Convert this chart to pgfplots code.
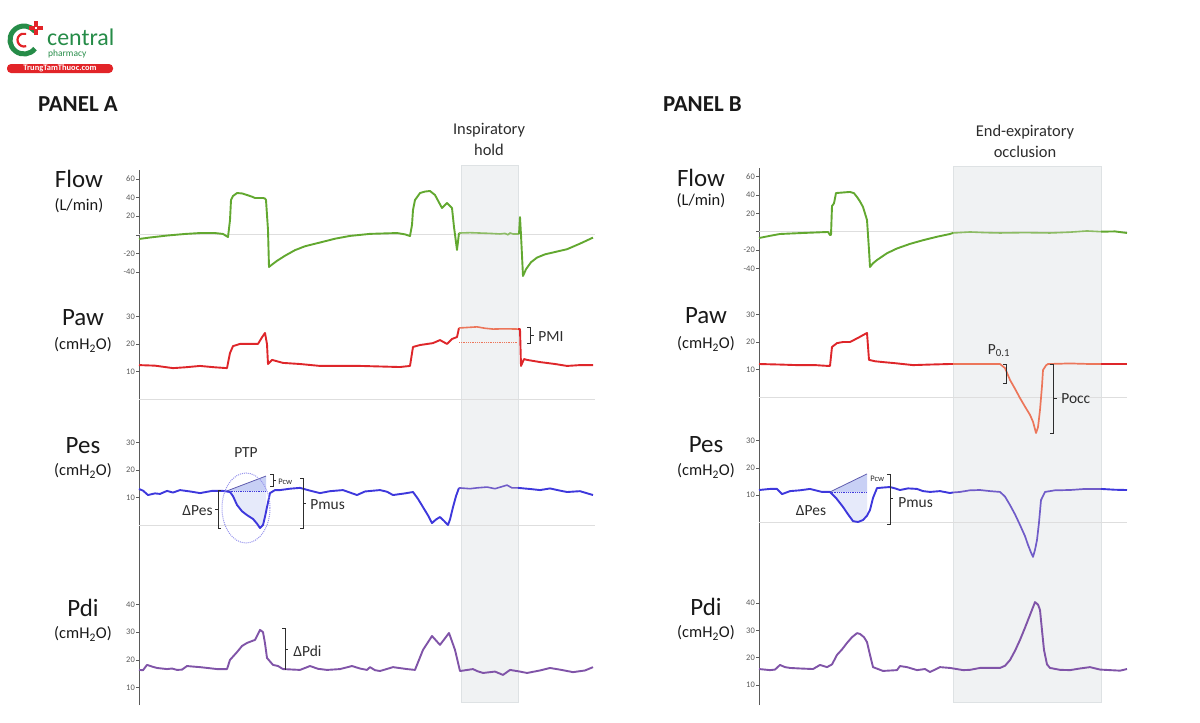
\documentclass[border=0pt]{standalone}
\usepackage{fontspec}
\setmainfont{Carlito}
\usepackage{pgfplots}
\pgfplotsset{compat=1.18}
\definecolor{cflow}{RGB}{98,168,48}
\definecolor{cflowh}{RGB}{140,188,100}
\definecolor{cpaw}{RGB}{222,38,42}
\definecolor{cpawh}{RGB}{236,118,90}
\definecolor{cpes}{RGB}{62,56,220}
\definecolor{cpesh}{RGB}{112,92,200}
\definecolor{cpdi}{RGB}{128,84,168}
\definecolor{bgshade}{RGB}{240,242,243}
\definecolor{bgshadeb}{RGB}{222,226,228}
\definecolor{zline}{RGB}{222,222,222}
\definecolor{axc}{RGB}{90,90,90}
\definecolor{txt}{RGB}{25,25,25}
\definecolor{ann}{RGB}{45,45,45}
\definecolor{logog}{RGB}{38,140,72}
\definecolor{logor}{RGB}{226,36,40}
\definecolor{ptpfill}{RGB}{200,208,245}
\pgfplotsset{trace/.style={x=1bp, anchor=south west, axis x line=none, axis y line*=left, clip=false,
  tick align=outside, major tick length=3bp,
  y axis line style={axc, line width=0.8bp}, ytick style={axc, line width=0.6bp},
  yticklabel style={font=\fontsize{8.5}{8.5}\selectfont, text=axc, inner sep=1bp},
  /pgf/number format/assume math mode=true,
  every axis plot/.append style={line join=round}}}
\newcommand{\lab}[1]{\fontsize{#1}{#1}\selectfont}
\begin{document}
\begin{tikzpicture}
\useasboundingbox (0,0) rectangle (1200bp,-723bp);
\begin{scope}[x=1bp,y=-1bp]
% shaded regions
\fill[bgshade] (461,165) rectangle (518,702);
\draw[bgshadeb, line width=0.6bp] (461,165) rectangle (518,702);
\fill[bgshade] (953,166) rectangle (1101,702);
\draw[bgshadeb, line width=0.6bp] (953,166) rectangle (1101,702);
% logo
\draw[logog, line width=5bp] (24,40) ++(38:14) arc[start angle=38, end angle=322, radius=14];
\draw[logor, line width=2.2bp] (24,40) ++(70:6.5) arc[start angle=70, end angle=290, radius=6.5];
\fill[logor] (34,21) rectangle (38,35);
\fill[logor] (29,26) rectangle (43,30);
\fill[white] (35,27) rectangle (37,29);
\node[anchor=west, text=logog, font=\lab{24}, inner sep=0] at (47,37) {central};
\node[anchor=west, text=logog, font=\lab{9.5}, inner sep=0] at (48,54) {pharmacy};
\fill[logor, rounded corners=4bp] (7,64) rectangle (113,73);
\node[text=white, font=\bfseries\lab{8.5}, inner sep=0] at (60,68.5) {TrungTamThuoc.com};
% panel titles
\node[anchor=west, font=\bfseries\lab{23}, text=txt, inner sep=0] at (38,104) {PANEL A};
\node[anchor=west, font=\bfseries\lab{23}, text=txt, inner sep=0] at (663,104.5) {PANEL B};
\node[font=\lab{16.5}, text=ann, align=center] at (489,130) {Inspiratory};
\node[font=\lab{16.5}, text=ann] at (489,150) {hold};
\node[font=\lab{16.5}, text=ann] at (1025,132) {End-expiratory};
\node[font=\lab{16.5}, text=ann] at (1025,152) {occlusion};
% trace labels A
\node[font=\lab{25}, text=txt] at (79,179) {Flow};
\node[font=\lab{16.5}, text=txt] at (79,206) {(L/min)};
\node[font=\lab{25}, text=txt] at (83,318) {Paw};
\node[font=\lab{16.5}, text=txt] at (83,345) {(cmH\textsubscript{2}O)};
\node[font=\lab{25}, text=txt] at (83,446) {Pes};
\node[font=\lab{16.5}, text=txt] at (83,471) {(cmH\textsubscript{2}O)};
\node[font=\lab{25}, text=txt] at (83,608) {Pdi};
\node[font=\lab{16.5}, text=txt] at (83,634) {(cmH\textsubscript{2}O)};
% trace labels B
\node[font=\lab{25}, text=txt] at (701,178) {Flow};
\node[font=\lab{16.5}, text=txt] at (701,201) {(L/min)};
\node[font=\lab{25}, text=txt] at (706,316) {Paw};
\node[font=\lab{16.5}, text=txt] at (706,344) {(cmH\textsubscript{2}O)};
\node[font=\lab{25}, text=txt] at (706,445) {Pes};
\node[font=\lab{16.5}, text=txt] at (706,471) {(cmH\textsubscript{2}O)};
\node[font=\lab{25}, text=txt] at (706,607) {Pdi};
\node[font=\lab{16.5}, text=txt] at (706,633) {(cmH\textsubscript{2}O)};
\end{scope}

% ---------------- PANEL A ----------------
\begin{axis}[trace, at={(139bp,-290bp)}, y=0.93bp, xmin=139, xmax=600, ymin=-59.35, ymax=69.68,
  ytick={-40,-20,0,20,40,60}, yticklabels={-40,-20,,20,40,60}]
\addplot[zline, line width=0.7bp] coordinates {(139,0)(595,0)};
\addplot[cflow, line width=1.9bp] coordinates {(139,-4.5)(150,-2.9)(167,-0.8)(185,0.9)(200,1.9)(215,1.9)(223,0.9)(228,-2.4)(230,15.9)(231,37.4)(233,41.7)(237,44.9)(242,44.5)(247,42.8)(252,41)(255,39.6)(263,39.6)(265,39)(266,37.4)(268,5.2)(269,-34.6)(272,-32)(277,-28)(285,-22.5)(295,-16.5)(305,-12.3)(320,-8.3)(335,-4.2)(350,-1.2)(370,1.0)(397,1.9)(405,0.5)(410,-1.3)(412,10.5)(413,26.7)(415,37.4)(420,44.9)(425,46.5)(430,47.1)(435,42.8)(442,28.8)(447,34.2)(452,28.8)(454,8.4)(457,-16.3)(459,1.9)};
\addplot[cflowh, line width=1.6bp] coordinates {(459,1.9)(470,2.3)(480,1.9)(490,1.5)(500,0.9)(505,1.5)(508,0)(510,2.0)(513,0.9)(519,0.9)};
\addplot[cflow, line width=1.9bp] coordinates {(519,0.9)(520,19.1)(521,-0.2)(523,-44.3)(526,-37)(531,-29.5)(537,-24.5)(545,-21)(555,-18.5)(567,-15.5)(580,-9.5)(593,-3)};
\end{axis}

\begin{axis}[trace, at={(139bp,-415bp)}, y=2.75bp, xmin=139, xmax=600, ymin=-5.745, ymax=39.71,
  ytick={10,20,30}]
\addplot[zline, line width=0.7bp] coordinates {(139,0)(595,0)};
\addplot[cpaw, line width=1.9bp] coordinates {(139,12.4)(155,12.2)(173,11.3)(185,11.6)(200,12.1)(215,11.6)(227,11.3)(230,16.8)(233,19.3)(240,20.1)(258,20.1)(262,22.5)(265,24.1)(267,20)(268,12.8)(272,14.3)(283,13.2)(300,12.8)(320,12.1)(360,12.1)(400,11.7)(410,12.1)(413,19.0)(420,19.7)(433,20.4)(440,21.5)(447,20.1)(452,21.9)(457,22.6)(459,25.9)};
\addplot[cpawh, line width=1.6bp] coordinates {(459,25.9)(468,26.1)(477,26.3)(485,25.8)(493,25.5)(505,25.6)(518,25.5)};
\addplot[cpaw, line width=1.9bp] coordinates {(518,25.5)(520,25.5)(521,12.1)(524,14.6)(527,14.3)(540,13.5)(555,12.8)(567,12.1)(580,12.4)(593,12.4)};
\addplot[cpawh, densely dotted, line width=0.8bp] coordinates {(459,20.8)(518,20.8)};
\end{axis}

\begin{axis}[trace, at={(139bp,-560bp)}, y=2.75bp, xmin=139, xmax=600, ymin=-12.727, ymax=40.0,
  ytick={10,20,30}]
\addplot[zline, line width=0.7bp] coordinates {(139,0)(595,0)};
\addplot[fill=ptpfill, draw=none] coordinates {(227,12.4)(266,17.8)(266,12.4)} -- cycle;
\addplot[fill=ptpfill!45, draw=none] coordinates {(227,12.4)(266,12.4)(266,4.8)(263,0)(260,-1.1)(257,0.5)(253,2.2)(247,3.6)(242,5)(237,7.3)(233,10.5)(230,12.0)} -- cycle;
\addplot[cpes!50!gray, line width=0.8bp] coordinates {(227,12.4)(266,17.8)};
\addplot[cpes, densely dotted, line width=0.8bp] coordinates {(227,12.4)(266,12.4)};
\addplot[cpes, line width=1.9bp] coordinates {(139,13.1)(143,12.5)(148,10.9)(155,11.5)(160,11.3)(167,12.4)(173,11.8)(180,12.7)(190,12.2)(200,11.6)(212,12.4)(223,12.4)(230,12.0)(233,10.5)(237,7.3)(242,5)(247,3.6)(253,2.2)(257,0.5)(260,-1.1)(263,0)(265,3)(267,6.5)(270,11.6)(275,12.7)(280,12.7)(290,13.2)(300,13.5)(310,12.5)(320,11.6)(330,12.3)(343,12.7)(350,11.8)(357,10.9)(365,12.2)(380,12.7)(387,12.1)(393,10.9)(405,11.5)(413,12.0)(418,9.5)(423,6.5)(428,3.5)(432,0.7)(436,2)(440,2.9)(444,1.5)(448,0)(450,2)(453,6.5)(456,10.5)(459,13.5)};
\addplot[cpesh, line width=1.6bp] coordinates {(459,13.5)(470,13.2)(477,13.5)(487,13.8)(495,13.2)(507,14.5)(512,13.5)(518,13.5)};
\addplot[cpes, line width=1.9bp] coordinates {(518,13.5)(530,13.1)(540,12.7)(550,13.3)(560,12.5)(567,12.0)(580,12.3)(593,10.9)};
\end{axis}

\begin{axis}[trace, at={(139bp,-705bp)}, y=2.78bp, xmin=139, xmax=600, ymin=3.777, ymax=55.935,
  ytick={10,20,30,40}]
\addplot[cpdi, line width=1.9bp] coordinates {(139,16.4)(143,16.3)(147,18.2)(152,17.6)(157,17.1)(167,16.7)(172,16.9)(177,16.4)(182,16.5)(187,17.8)(193,17.6)(200,17.4)(210,17.0)(217,16.7)(227,16.7)(230,20.0)(237,22.8)(242,25)(247,26.1)(255,27.2)(260,30.8)(263,30.0)(265,26)(267,20.7)(273,18.2)(278,17.8)(283,16.7)(300,16.4)(310,17.8)(318,16.8)(327,16.4)(340,16.7)(352,17.8)(360,16.9)(367,16.4)(370,17.4)(375,16.3)(380,16.0)(393,17.4)(407,16.7)(415,16.4)(423,23.6)(432,28.6)(440,25.4)(449,29.7)(455,23.6)(460,16.0)(473,16.7)(477,16.0)(483,15.3)(495,15.8)(503,14.6)(510,16.4)(520,15.8)(527,15.3)(540,16.2)(550,17.1)(560,16.5)(573,15.6)(585,16.2)(593,17.4)};
\end{axis}

% ---------------- PANEL B ----------------
\begin{axis}[trace, at={(759bp,-290bp)}, y=0.916bp, xmin=759, xmax=1130, ymin=-63.65, ymax=69.54,
  ytick={-40,-20,0,20,40,60}, yticklabels={-40,-20,,20,40,60}]
\addplot[zline, line width=0.7bp] coordinates {(759,0)(1127,0)};
\addplot[cflow, line width=1.9bp] coordinates {(759,-6.9)(770,-4.5)(780,-2.5)(803,-1.4)(828,-0.3)(830,-3.6)(831,-3.6)(832,28)(834,31)(836,42.2)(850,43.4)(854,42)(857,37.9)(860,33)(863,27.0)(867,12.8)(869,-20)(870,-38.5)(873,-34.5)(877,-30.9)(887,-23.5)(897,-18.3)(910,-13.3)(923,-9.3)(937,-5.5)(950,-2.5)(953,-1.4)};
\addplot[cflowh, line width=1.6bp] coordinates {(953,-1.4)(970,-0.3)(985,-1)(1000,-1.4)(1025,-1)(1050,-1.4)(1070,-0.5)(1087,0.8)(1101,0)};
\addplot[cflow, line width=1.9bp] coordinates {(1101,0)(1115,0.3)(1127,-1.4)};
\end{axis}

\begin{axis}[trace, at={(759bp,-415bp)}, y=2.75bp, xmin=759, xmax=1130, ymin=-6.545, ymax=38.91,
  ytick={10,20,30}]
\addplot[zline, line width=0.7bp] coordinates {(759,0)(1127,0)};
\addplot[cpaw, line width=1.9bp] coordinates {(759,12.0)(780,11.8)(797,11.6)(815,11.6)(828,11.3)(830,11.3)(832,18.2)(837,19.6)(843,20)(850,20.0)(858,21.5)(867,23.3)(869,13.5)(875,13)(883,12.7)(895,12.3)(913,11.6)(930,11.8)(950,12.0)(953,12.0)};
\addplot[cpawh, line width=1.7bp] coordinates {(953,12.0)(975,12)(1000,12.0)(1005,10.5)(1010,6.2)(1015,3)(1020,-0.4)(1025,-3.5)(1030,-6.5)(1033,-9)(1036,-13.1)(1038,-11)(1040,-4.7)(1042,4)(1043,9.8)(1046,11.5)(1048,12)(1070,12.2)(1090,12)(1101,12)};
\addplot[cpaw, line width=1.9bp] coordinates {(1101,12)(1127,12)};
\end{axis}

\begin{axis}[trace, at={(759bp,-560bp)}, y=2.73bp, xmin=759, xmax=1130, ymin=-13.736, ymax=39.377,
  ytick={10,20,30}]
\addplot[zline, line width=0.7bp] coordinates {(759,0)(1127,0)};
\addplot[fill=ptpfill, draw=none] coordinates {(830,11.2)(867,17.8)(867,11.2)} -- cycle;
\addplot[fill=ptpfill!45, draw=none] coordinates {(830,11.2)(867,11.2)(867,2.5)(863,0.9)(858,0.2)(853,0.5)(848,3)(843,5.7)(836,9)} -- cycle;
\addplot[cpes!50!gray, line width=0.8bp] coordinates {(830,11.2)(867,17.8)};
\addplot[cpes, densely dotted, line width=0.8bp] coordinates {(830,11.2)(867,11.2)};
\addplot[cpes, line width=1.9bp] coordinates {(759,11.9)(770,12.3)(777,12.3)(782,10.4)(790,11.5)(800,11.8)(810,12.3)(822,11.2)(830,11.2)(836,9)(843,5.7)(848,3)(853,0.5)(858,0.2)(863,0.9)(867,2.5)(870,4.6)(873,9)(877,12.6)(883,12.8)(890,13.0)(895,12.5)(900,11.9)(908,12.5)(917,12.3)(923,11.5)(930,11.2)(940,11.5)(950,10.8)(953,11)};
\addplot[cpesh, line width=1.7bp] coordinates {(953,11)(960,11.2)(970,11.8)(980,11.9)(990,11.5)(1000,11.2)(1005,9.5)(1010,6.4)(1015,3)(1020,-0.9)(1025,-5)(1028,-8.2)(1031,-11)(1033,-12.6)(1035,-10)(1037,-6.4)(1039,0)(1041,8.2)(1045,11.2)(1055,11.8)(1070,11.9)(1085,12.3)(1101,12.3)};
\addplot[cpes, line width=1.9bp] coordinates {(1101,12.3)(1115,12)(1127,11.9)};
\end{axis}

\begin{axis}[trace, at={(759bp,-705bp)}, y=2.72bp, xmin=759, xmax=1130, ymin=2.574, ymax=55.88,
  ytick={10,20,30,40}]
\addplot[cpdi, line width=1.9bp] coordinates {(759,15.8)(770,15.4)(775,15.6)(780,17.3)(785,16.5)(790,16.2)(800,16)(813,15.8)(820,17.3)(827,16.5)(832,17.5)(837,21.0)(842,23)(847,25.4)(852,27.5)(857,29.0)(860,28.7)(864,27.5)(867,25.7)(870,21)(873,16.5)(883,15.1)(897,15.4)(900,16.9)(907,16.5)(917,15.4)(925,15.8)(930,14.7)(940,16.5)(950,16.2)(963,15.4)(970,15.5)(980,16.2)(1000,16.2)(1005,17)(1010,19.1)(1015,22.5)(1020,26.5)(1025,31)(1030,35.7)(1035,40.4)(1038,39.5)(1040,37.5)(1042,30)(1044,22.8)(1047,17.5)(1050,16.2)(1060,15.5)(1070,15.4)(1080,16)(1090,16.5)(1100,15.6)(1110,15.4)(1120,15.2)(1127,15.8)};
\end{axis}

% ---------------- annotations ----------------
\begin{scope}[x=1bp,y=-1bp, line width=0.8bp]
\draw[cpes!55, densely dotted, line width=1bp] (246,508) ellipse [x radius=24bp, y radius=35bp];
\node[font=\lab{15.5}, text=ann] at (246,453) {PTP};
\draw[ann] (270,474)--(273,474)--(273,486)--(270,486) (273,480)--(276,480);
\node[font=\lab{8.5}, text=ann, anchor=west, inner sep=1bp] at (277,482) {Pcw};
\draw[ann] (221,490)--(218,490)--(218,528)--(221,528) (218,509)--(215,509);
\node[font=\lab{15.5}, text=ann, anchor=east, inner sep=1bp] at (214,511) {ΔPes};
\draw[ann] (300,478)--(303,478)--(303,528)--(300,528) (303,503)--(306,503);
\node[font=\lab{15.5}, text=ann, anchor=west, inner sep=1bp] at (309,505) {Pmus};
\draw[ann] (527,327)--(530,327)--(530,343)--(527,343) (530,335)--(534,335);
\node[font=\lab{15.5}, text=ann, anchor=west, inner sep=1bp] at (537,337) {PMI};
\draw[ann] (282,628)--(285,628)--(285,670) (285,649)--(288,649);
\node[font=\lab{15.5}, text=ann, anchor=west, inner sep=1bp] at (292,651) {ΔPdi};
% B
\node[font=\lab{8.5}, text=ann, anchor=west, inner sep=1bp] at (869,479) {Pcw};
\draw[ann] (887,474)--(890,474)--(890,524)--(887,524) (890,498)--(893,498);
\node[font=\lab{15.5}, text=ann, anchor=west, inner sep=1bp] at (897,503) {Pmus};
\node[font=\lab{15.5}, text=ann] at (811,511) {ΔPes};
\draw[ann] (1003,364)--(1006,364)--(1006,383)--(1003,383);
\node[font=\lab{15.5}, text=ann] at (999,351) {P\textsubscript{0.1}};
\draw[ann] (1050,364)--(1053,364)--(1053,433)--(1050,433) (1053,398)--(1057,398);
\node[font=\lab{15.5}, text=ann, anchor=west, inner sep=1bp] at (1060,399) {Pocc};
\end{scope}
\end{tikzpicture}
\end{document}
